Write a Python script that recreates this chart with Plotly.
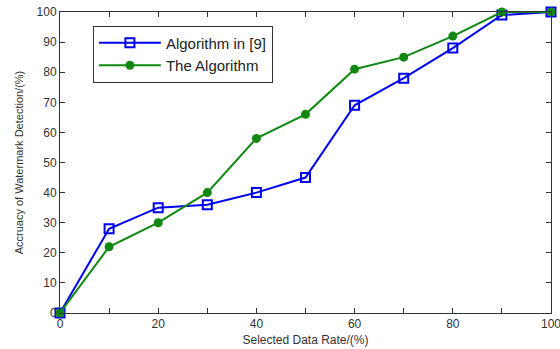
import plotly.graph_objects as go

x_rate = [0, 10, 20, 30, 40, 50, 60, 70, 80, 90, 100]
alg9 = [0, 28, 35, 36, 40, 45, 69, 78, 88, 99, 100]
the_alg = [0, 22, 30, 40, 58, 66, 81, 85, 92, 100, 100]

fig = go.Figure()
fig.add_trace(go.Scatter(
    x=x_rate, y=alg9, name="Algorithm in [9]", mode="lines+markers",
    line=dict(color="#0000ee", width=2),
    marker=dict(symbol="square-open", size=9, color="#0000ee", line=dict(width=2)),
    cliponaxis=False))
fig.add_trace(go.Scatter(
    x=x_rate, y=the_alg, name="The Algorithm", mode="lines+markers",
    line=dict(color="#118811", width=2),
    marker=dict(symbol="circle", size=9, color="#118811"),
    cliponaxis=False))

axis_common = dict(showgrid=False, zeroline=False, showline=True, linecolor="#333",
                   linewidth=1, mirror="ticks", ticks="inside", ticklen=5,
                   tickcolor="#333", ticklabeloverflow="allow", automargin=False,
                   tickfont=dict(family="Liberation Sans", size=12, color="#333"))
fig.update_xaxes(range=[0, 100], tickvals=list(range(0, 101, 10)),
                 ticktext=[str(v) if v % 20 == 0 else "" for v in range(0, 101, 10)],
                 title=dict(text="Selected Data Rate/(%)", standoff=5,
                            font=dict(family="Liberation Sans", size=12, color="#333")),
                 **axis_common)
fig.update_yaxes(range=[0, 100], dtick=10,
                 title=dict(text="Accruacy of Watermark Detection/(%)", standoff=10,
                            font=dict(family="Liberation Sans", size=11, color="#333")),
                 **axis_common)
fig.update_layout(
    width=560, height=349, margin=dict(l=60, r=9, t=12, b=36),
    paper_bgcolor="white", plot_bgcolor="white",
    legend=dict(x=0.067, y=0.955, xanchor="left", yanchor="top",
                bordercolor="#333", borderwidth=1, bgcolor="white",
                font=dict(family="Liberation Sans", size=15, color="#222"),
                itemwidth=62, tracegroupgap=2),
)
fig.write_html("out.html")
